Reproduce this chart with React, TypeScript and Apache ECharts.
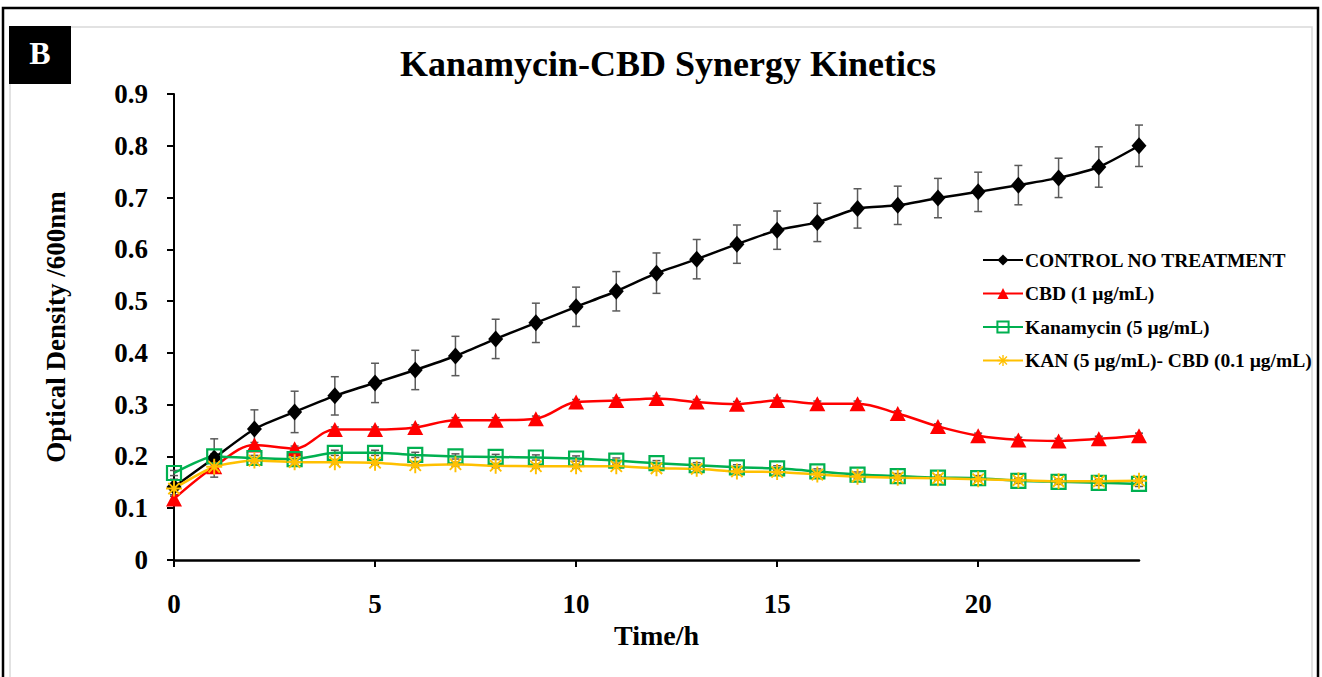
import React, { useEffect, useRef } from "react";
import * as echarts from "echarts";

const hours = [0, 1, 2, 3, 4, 5, 6, 7, 8, 9, 10, 11, 12, 13, 14, 15, 16, 17, 18, 19, 20, 21, 22, 23, 24];
const xTicks = [0, 5, 10, 15, 20];

const control = [0.141, 0.197, 0.253, 0.286, 0.317, 0.342, 0.367, 0.394, 0.427, 0.458, 0.489, 0.519, 0.554, 0.581, 0.61, 0.637, 0.652, 0.679, 0.685, 0.699, 0.711, 0.724, 0.738, 0.759, 0.8];
const controlErr = [0.015, 0.037, 0.037, 0.04, 0.037, 0.038, 0.038, 0.038, 0.038, 0.038, 0.038, 0.038, 0.039, 0.038, 0.037, 0.037, 0.037, 0.038, 0.037, 0.038, 0.038, 0.038, 0.038, 0.039, 0.04];

const cbd = [0.118, 0.18, 0.222, 0.215, 0.252, 0.252, 0.256, 0.27, 0.27, 0.273, 0.305, 0.308, 0.312, 0.305, 0.301, 0.308, 0.302, 0.302, 0.283, 0.258, 0.24, 0.232, 0.23, 0.234, 0.24];
const cbdErr = [0.005, 0.005, 0.005, 0.005, 0.005, 0.005, 0.005, 0.005, 0.005, 0.005, 0.005, 0.005, 0.005, 0.005, 0.005, 0.005, 0.005, 0.005, 0.005, 0.005, 0.005, 0.005, 0.005, 0.005, 0.005];

const kan = [0.168, 0.2, 0.197, 0.195, 0.207, 0.207, 0.203, 0.2, 0.199, 0.198, 0.196, 0.192, 0.187, 0.183, 0.179, 0.177, 0.171, 0.165, 0.162, 0.159, 0.158, 0.153, 0.151, 0.149, 0.147];
const kanErr = [0.005, 0.005, 0.005, 0.005, 0.005, 0.005, 0.005, 0.005, 0.005, 0.005, 0.005, 0.005, 0.005, 0.005, 0.005, 0.005, 0.005, 0.005, 0.005, 0.005, 0.005, 0.005, 0.005, 0.005, 0.005];

const combo = [0.138, 0.18, 0.192, 0.189, 0.189, 0.188, 0.183, 0.185, 0.182, 0.181, 0.181, 0.181, 0.177, 0.176, 0.171, 0.17, 0.165, 0.161, 0.159, 0.158, 0.156, 0.154, 0.152, 0.152, 0.153];
const comboErr = [0.004, 0.004, 0.004, 0.004, 0.004, 0.004, 0.004, 0.004, 0.004, 0.004, 0.004, 0.004, 0.004, 0.004, 0.004, 0.004, 0.004, 0.004, 0.004, 0.004, 0.004, 0.004, 0.004, 0.004, 0.004];

const seriesNames = [
  "CONTROL NO TREATMENT",
  "CBD (1 µg/mL)",
  "Kanamycin (5 µg/mL)",
  "KAN (5 µg/mL)- CBD (0.1 µg/mL)",
];

const titleText = "Kanamycin-CBD Synergy Kinetics";
const xAxisName = "Time/h";
const yAxisName = "Optical Density /600nm";
const panelLabel = "B";

const FONT = "'Liberation Serif', 'Times New Roman', serif";

const asterisk =
  "path://M-1,-0.12L1,-0.12L1,0.12L-1,0.12Z" +
  "M0.12,-1L0.12,1L-0.12,1L-0.12,-1Z" +
  "M-0.6222,-0.792L0.792,0.6222L0.6222,0.792L-0.792,-0.6222Z" +
  "M0.792,-0.6222L-0.6222,0.792L-0.792,0.6222L0.6222,-0.792Z";

function errData(vals: number[], errs: number[]) {
  return hours.map((h, i) => [h, vals[i] - errs[i], vals[i] + errs[i]]);
}

function errSeries(vals: number[], errs: number[]) {
  return {
    type: "custom",
    z: 1,
    silent: true,
    data: errData(vals, errs),
    encode: { x: 0, y: [1, 2] },
    renderItem: (params: any, api: any) => {
      const x = api.value(0);
      const top = api.coord([x, api.value(2)]);
      const bot = api.coord([x, api.value(1)]);
      const w = 4;
      const style = { stroke: "#5a5a5a", lineWidth: 1.5, fill: "none" };
      return {
        type: "group",
        children: [
          { type: "line", shape: { x1: top[0], y1: top[1], x2: bot[0], y2: bot[1] }, style },
          { type: "line", shape: { x1: top[0] - w, y1: top[1], x2: top[0] + w, y2: top[1] }, style },
          { type: "line", shape: { x1: bot[0] - w, y1: bot[1], x2: bot[0] + w, y2: bot[1] }, style },
        ],
      };
    },
  };
}

export default function App() {
  const ref = useRef<HTMLDivElement>(null);

  useEffect(() => {
    document.body.style.margin = "0";
    const chart = echarts.init(ref.current!, null, { renderer: "svg" });
    const pts = (vals: number[]) => hours.map((h, i) => [h, vals[i]]);

    chart.setOption({
      animation: false,
      backgroundColor: "#ffffff",
      textStyle: { fontFamily: FONT },
      title: {
        text: titleText,
        left: 395,
        top: 41,
        textStyle: { fontFamily: FONT, fontSize: 36, fontWeight: "bold", color: "#000" },
      },
      graphic: [
        {
          type: "rect",
          shape: { x: 3, y: 8, width: 1315, height: 720 },
          style: { fill: "none", stroke: "#000", lineWidth: 2.5 },
          silent: true,
        },
        {
          type: "rect",
          shape: { x: 10, y: 27, width: 1302, height: 720 },
          style: { fill: "none", stroke: "#d9d9d9", lineWidth: 1.5 },
          silent: true,
        },
        {
          type: "rect",
          shape: { x: 9, y: 26, width: 62, height: 58 },
          style: { fill: "#000" },
          silent: true,
        },
        {
          type: "text",
          x: 40,
          y: 53,
          style: {
            text: panelLabel,
            fill: "#fff",
            font: `bold 32px ${FONT}`,
            align: "center",
            verticalAlign: "middle",
          },
          silent: true,
        },
      ],
      legend: {
        data: seriesNames,
        orient: "vertical",
        left: 977,
        top: 245,
        itemWidth: 40,
        itemHeight: 14,
        itemGap: 13.5,
        textStyle: { fontFamily: FONT, fontSize: 19.5, fontWeight: "bold", color: "#000", padding: [0, 0, 0, -3] },
      },
      grid: { left: 174, right: 183, top: 94, bottom: 117, containLabel: false, outerBoundsMode: "none" },
      xAxis: {
        type: "value",
        min: 0,
        max: 24,
        interval: 5,
        name: xAxisName,
        nameLocation: "middle",
        nameGap: 59,
        nameTextStyle: { fontFamily: FONT, fontSize: 28, fontWeight: "bold", color: "#000" },
        axisLine: { show: true, onZero: false, lineStyle: { color: "#000", width: 2.5 } },
        axisTick: { show: true, length: 7, customValues: xTicks, lineStyle: { color: "#000", width: 2 } },
        axisLabel: {
          margin: 30,
          customValues: xTicks,
          fontFamily: FONT,
          fontSize: 27,
          fontWeight: "bold",
          color: "#000",
        },
        splitLine: { show: false },
      },
      yAxis: {
        type: "value",
        min: 0,
        max: 0.9,
        interval: 0.1,
        name: yAxisName,
        nameLocation: "middle",
        nameGap: 105,
        nameTextStyle: { fontFamily: FONT, fontSize: 27, fontWeight: "bold", color: "#000" },
        axisLine: { show: true, lineStyle: { color: "#000", width: 2 } },
        axisTick: { show: true, length: 7, lineStyle: { color: "#000", width: 2 } },
        axisLabel: {
          margin: 26,
          fontFamily: FONT,
          fontSize: 27,
          fontWeight: "bold",
          color: "#000",
          formatter: (v: number) => (Math.abs(v) < 1e-9 ? "0" : v.toFixed(1)),
        },
        splitLine: { show: false },
      },
      series: [
        errSeries(control, controlErr),
        errSeries(cbd, cbdErr),
        errSeries(kan, kanErr),
        errSeries(combo, comboErr),
        {
          name: seriesNames[0],
          type: "line",
          z: 3,
          data: pts(control),
          smooth: 0.2,
          symbol: "diamond",
          symbolSize: [15, 17],
          lineStyle: { color: "#000", width: 2.5 },
          itemStyle: { color: "#000", borderWidth: 0 },
        },
        {
          name: seriesNames[1],
          type: "line",
          z: 3,
          data: pts(cbd),
          smooth: 0.35,
          symbol: "triangle",
          symbolSize: [16, 15],
          lineStyle: { color: "#ff0000", width: 2.5 },
          itemStyle: { color: "#ff0000", borderWidth: 0 },
        },
        {
          name: seriesNames[2],
          type: "line",
          z: 3,
          data: pts(kan),
          smooth: 0.2,
          symbol: "rect",
          symbolSize: 14,
          lineStyle: { color: "#00b050", width: 2.5 },
          itemStyle: { color: "rgba(255,255,255,0)", borderColor: "#00b050", borderWidth: 2.2 },
        },
        {
          name: seriesNames[3],
          type: "line",
          z: 3,
          data: pts(combo),
          smooth: 0.2,
          symbol: asterisk,
          symbolSize: 16,
          lineStyle: { color: "#ffc000", width: 2.5 },
          itemStyle: { color: "#ffc000", borderWidth: 0 },
        },
      ],
    });

    return () => chart.dispose();
  }, []);

  return <div ref={ref} style={{ width: 1322, height: 677 }} />;
}
